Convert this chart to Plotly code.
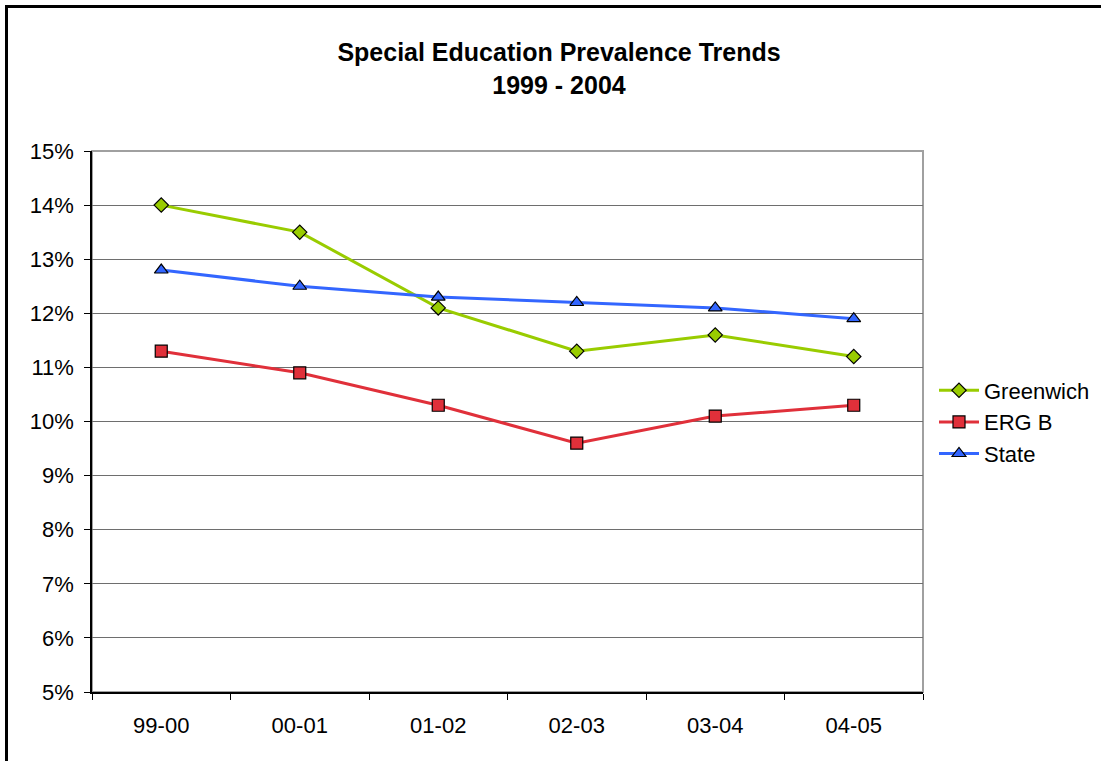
import plotly.graph_objects as go

categories = ["99-00", "00-01", "01-02", "02-03", "03-04", "04-05"]
greenwich = [0.140, 0.135, 0.121, 0.113, 0.116, 0.112]
erg_b = [0.113, 0.109, 0.103, 0.096, 0.101, 0.103]
state = [0.128, 0.125, 0.123, 0.122, 0.121, 0.119]

FONT = "Liberation Sans, Arial, sans-serif"

fig = go.Figure()
fig.add_trace(go.Scatter(x=categories, y=greenwich, name="Greenwich", mode="lines+markers",
                         line=dict(color="#99CC00", width=3),
                         marker=dict(symbol="diamond", size=11, color="#99CC00",
                                     line=dict(color="black", width=1.2))))
fig.add_trace(go.Scatter(x=categories, y=erg_b, name="ERG B", mode="lines+markers",
                         line=dict(color="#E0303A", width=3),
                         marker=dict(symbol="square", size=12, color="#E0303A",
                                     line=dict(color="black", width=1.2))))
fig.add_trace(go.Scatter(x=categories, y=state, name="State", mode="lines+markers",
                         line=dict(color="#3366FF", width=3),
                         marker=dict(symbol="triangle-up", size=12, color="#3366FF",
                                     line=dict(color="black", width=1.2))))

fig.update_layout(
    width=1101, height=761,
    margin=dict(l=92, r=178, t=151, b=69, autoexpand=False),
    paper_bgcolor="white", plot_bgcolor="white",
    font=dict(family=FONT, size=22, color="black"),
    title=dict(text="<b>Special Education Prevalence Trends<br>1999 - 2004</b>",
               x=559 / 1101, xanchor="center", xref="container",
               y=1 - 61 / 761, yanchor="top", yref="container",
               font=dict(family=FONT, size=25, color="black")),
    showlegend=True,
    legend=dict(x=(934 - 92) / 831, xanchor="left", y=(692 - 422) / 541, yanchor="middle",
                font=dict(family=FONT, size=22), bgcolor="rgba(0,0,0,0)",
                tracegroupgap=0, itemwidth=40),
    xaxis=dict(type="category", tickson="boundaries", ticks="outside", ticklen=6,
               tickcolor="black", showline=True, linecolor="black", linewidth=1.5,
               showgrid=False, range=[-0.5, 5.5], tickfont=dict(size=22),
               ticklabelstandoff=13, fixedrange=True),
    yaxis=dict(range=[0.05, 0.15], dtick=0.01, tickformat=".0%", ticks="outside",
               ticklen=6, tickcolor="black", showline=True, linecolor="black", linewidth=1.5,
               showgrid=True, gridcolor="#6E6E6E", gridwidth=1.2, zeroline=False,
               tickfont=dict(size=22), ticklabelstandoff=6, fixedrange=True),
    shapes=[
        dict(type="rect", xref="paper", yref="paper", x0=0, x1=1, y0=0, y1=1,
             line=dict(color="#A0A0A0", width=2), layer="below"),
        dict(type="rect", xref="paper", yref="paper",
             x0=(6.5 - 92) / 831, x1=(1115 - 92) / 831,
             y0=(692 - 775) / 541, y1=(692 - 6.5) / 541,
             line=dict(color="black", width=3)),
    ],
)

fig.write_html("out.html")
